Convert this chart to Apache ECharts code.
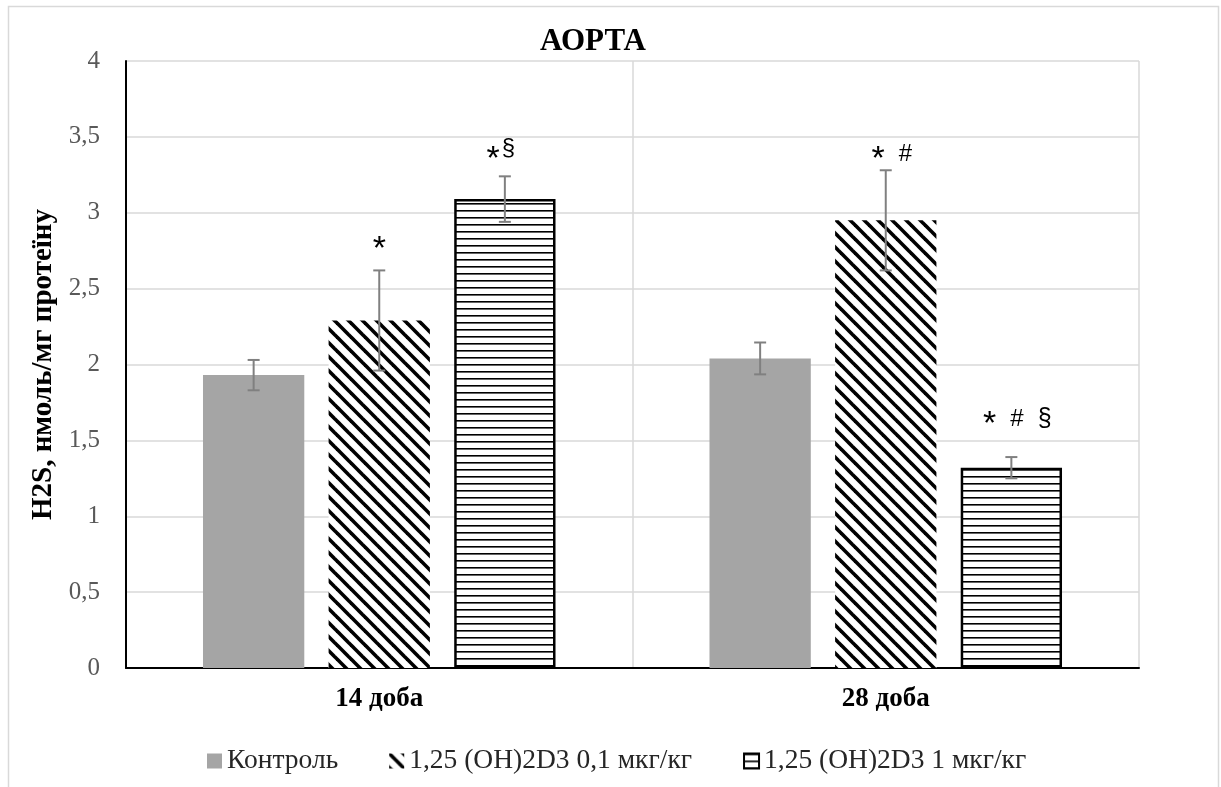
<!DOCTYPE html>
<html>
<head>
<meta charset="utf-8">
<script src="https://cdn.jsdelivr.net/npm/echarts@6/dist/echarts.min.js"></script>
<style>
  html, body { margin: 0; padding: 0; background: #ffffff; }
  #chart { width: 1221px; height: 787px; }
</style>
</head>
<body>
<div id="chart"></div>
<script>
// Groups on the x axis
const categories = ['14 доба', '28 доба'];
// Series names
const seriesNames = ['Контроль', '1,25 (OH)2D3 0,1 мкг/кг', '1,25 (OH)2D3 1 мкг/кг'];
// Mean H2S levels, nmol/mg protein
const controlValues = [1.93, 2.04];
const lowDoseValues = [2.29, 2.95];
const highDoseValues = [3.09, 1.32];
// Error bar half-widths
const controlErrors = [0.10, 0.105];
const lowDoseErrors = [0.33, 0.33];
const highDoseErrors = [0.15, 0.07];
// Significance marks above bars
const controlMarks = ['', ''];
const lowDoseMarks = ['*', '* #'];
const highDoseMarks = ['*§', '* # §'];
// Y axis ticks
const yTicks = [0, 0.5, 1, 1.5, 2, 2.5, 3, 3.5, 4];

// ---- fill patterns ----
function diagonalPattern() {
  const s = 14;
  const c = document.createElement('canvas');
  c.width = s; c.height = s;
  const g = c.getContext('2d');
  g.fillStyle = '#ffffff';
  g.fillRect(0, 0, s, s);
  g.strokeStyle = '#000000';
  g.lineWidth = 3.6;
  for (let k = -1; k <= 1; k++) {
    g.beginPath();
    g.moveTo(k * s - 2, -2);
    g.lineTo(k * s + s + 2, s + 2);
    g.stroke();
  }
  return { image: c, repeat: 'repeat' };
}
function horizontalPattern() {
  const c = document.createElement('canvas');
  c.width = 4; c.height = 7;
  const g = c.getContext('2d');
  g.fillStyle = '#ffffff';
  g.fillRect(0, 0, 4, 7);
  g.fillStyle = '#000000';
  g.fillRect(0, 0, 4, 1.6);
  return { image: c, repeat: 'repeat' };
}

const barFrac = 0.2;   // bar width as a share of the category band
const gapFrac = 0.24;  // gap between bars as a share of bar width

const valueSets = [controlValues, lowDoseValues, highDoseValues];
const errorSets = [controlErrors, lowDoseErrors, highDoseErrors];
const markSets = [controlMarks, lowDoseMarks, highDoseMarks];
// placement of each mark relative to the top of its error bar, px: [dx, lift]
const markShift = [[[0, 0], [0, 0]], [[0, 26], [6, 16]], [[-4, 22], [6, 38]]];

const barStyles = [
  { color: '#a5a5a5' },
  { color: diagonalPattern() },
  { color: horizontalPattern(), borderColor: '#000000', borderWidth: 2.5 }
];

const serifFont = 'Liberation Serif, "Times New Roman", serif';
const sansFont = 'Liberation Sans, Arial, sans-serif';

function markRich(str) {
  // '*' large, '#' and '§' smaller; '*§' puts the § as a superscript
  if (str === '*§') return '{st|*}{sup|§}';
  return str.split(' ').map(t => t === '*' ? '{st|*}' : (t === '#' ? '{hs|#}' : '{sg|§}')).join('{sp| }');
}

const series = [];
seriesNames.forEach((name, si) => {
  series.push({
    name: name,
    type: 'bar',
    data: valueSets[si],
    barWidth: (barFrac * 100) + '%',
    barGap: (gapFrac * 100) + '%',
    itemStyle: barStyles[si],
    emphasis: { disabled: true },
    z: 2
  });
});

seriesNames.forEach((name, si) => {
  series.push({
    type: 'custom',
    name: name + ' err',
    z: 5,
    silent: true,
    data: categories.map((c, ci) => [ci, valueSets[si][ci], errorSets[si][ci]]),
    renderItem: function (params, api) {
      const ci = api.value(0);
      const v = api.value(1);
      const e = api.value(2);
      const band = api.size([1, 0])[0];
      const bw = band * barFrac;
      const step = bw * (1 + gapFrac);
      const cx = api.coord([ci, v])[0] + (si - 1) * step;
      const yTop = api.coord([ci, v + e])[1];
      const yBot = api.coord([ci, v - e])[1];
      const cap = 6;
      const ls = { stroke: '#808080', lineWidth: 2 };
      const children = [
        { type: 'line', shape: { x1: cx, y1: yTop, x2: cx, y2: yBot }, style: ls },
        { type: 'line', shape: { x1: cx - cap, y1: yTop, x2: cx + cap, y2: yTop }, style: ls },
        { type: 'line', shape: { x1: cx - cap, y1: yBot, x2: cx + cap, y2: yBot }, style: ls }
      ];
      const mark = markSets[si][ci];
      if (mark) {
        const sh = markShift[si][ci];
        children.push({
          type: 'text',
          x: cx + sh[0],
          y: yTop - sh[1],
          style: {
            text: markRich(mark),
            align: 'center',
            verticalAlign: 'middle',
            rich: {
              st: { fontFamily: sansFont, fontSize: 34, fill: '#000', padding: [11, 0, 0, 0] },
              hs: { fontFamily: sansFont, fontSize: 24, fill: '#000' },
              sg: { fontFamily: sansFont, fontSize: 25, fill: '#000' },
              sup: { fontFamily: sansFont, fontSize: 24, fill: '#000', padding: [0, 0, 12, 2] },
              sp: { fontFamily: sansFont, fontSize: 21, fill: '#000', width: 14 }
            }
          }
        });
      }
      return { type: 'group', children: children };
    }
  });
});

const chart = echarts.init(document.getElementById('chart'), null, { renderer: 'canvas' });
chart.setOption({
  animation: false,
  backgroundColor: '#ffffff',
  title: {
    text: 'АОРТА',
    left: 588,
    top: 21,
    textAlign: 'center',
    textStyle: { fontFamily: serifFont, fontSize: 31, fontWeight: 'bold', color: '#000000' }
  },
  graphic: [{
    type: 'rect',
    shape: { x: 8.5, y: 6.5, width: 1210, height: 820 },
    style: { fill: 'none', stroke: '#d9d9d9', lineWidth: 1.5 },
    silent: true
  }],
  legend: {
    data: seriesNames,
    left: 202,
    top: 742,
    itemWidth: 15,
    itemHeight: 15,
    itemGap: 51,
    icon: 'rect',
    selectedMode: false,
    textStyle: { fontFamily: serifFont, fontSize: 27.5, color: '#262626' }
  },
  grid: { left: 126, top: 61, right: 82, bottom: 119 },
  xAxis: {
    type: 'category',
    data: categories,
    axisLine: { show: true, lineStyle: { color: '#000000', width: 2 } },
    axisTick: { show: false },
    splitLine: { show: true, lineStyle: { color: '#d9d9d9', width: 1.5 } },
    axisLabel: { fontFamily: serifFont, fontSize: 27, fontWeight: 'bold', color: '#000000', margin: 18 }
  },
  yAxis: {
    type: 'value',
    min: yTicks[0],
    max: yTicks[yTicks.length - 1],
    interval: yTicks[1] - yTicks[0],
    name: 'H2S, нмоль/мг протеїну',
    nameLocation: 'middle',
    nameRotate: 90,
    nameGap: 64,
    nameTextStyle: { fontFamily: serifFont, fontSize: 29, fontWeight: 'bold', color: '#000000' },
    axisLine: { show: true, lineStyle: { color: '#000000', width: 2 } },
    axisTick: { show: false },
    splitLine: { show: true, lineStyle: { color: '#d9d9d9', width: 1.5 } },
    axisLabel: {
      fontFamily: serifFont, fontSize: 25, color: '#595959', margin: 26,
      formatter: v => String(v).replace('.', ',')
    }
  },
  series: series
});
</script>
</body>
</html>
